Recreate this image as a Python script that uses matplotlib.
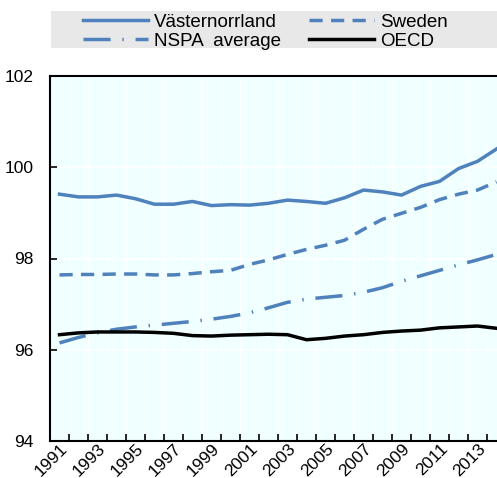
import matplotlib.pyplot as plt
from matplotlib.patches import Rectangle
import numpy as np

plt.rcParams['font.family'] = ['Liberation Sans Narrow', 'Liberation Sans', 'DejaVu Sans']

years = list(range(1991, 2015))
vasternorrland = [99.41, 99.35, 99.35, 99.39, 99.31, 99.19, 99.19, 99.25, 99.16, 99.18,
                  99.17, 99.21, 99.28, 99.25, 99.21, 99.33, 99.50, 99.46, 99.39, 99.58,
                  99.69, 99.97, 100.13, 100.40]
sweden = [97.64, 97.65, 97.65, 97.66, 97.66, 97.64, 97.64, 97.67, 97.71, 97.74,
          97.87, 97.97, 98.09, 98.20, 98.29, 98.40, 98.64, 98.86, 98.99, 99.12,
          99.29, 99.41, 99.50, 99.68]
nspa = [96.15, 96.27, 96.37, 96.45, 96.50, 96.54, 96.58, 96.62, 96.67, 96.73,
        96.81, 96.92, 97.04, 97.11, 97.15, 97.19, 97.26, 97.36, 97.50, 97.62,
        97.74, 97.86, 97.97, 98.09]
oecd = [96.33, 96.37, 96.39, 96.39, 96.39, 96.38, 96.36, 96.31, 96.30, 96.32,
        96.33, 96.34, 96.33, 96.22, 96.25, 96.30, 96.33, 96.38, 96.41, 96.43,
        96.48, 96.50, 96.52, 96.47]

BLUE = "#4f81bd"

fig = plt.figure(figsize=(4.97, 4.78), dpi=100)
# axes runs a little past the right edge of the figure
ax = fig.add_axes([50 / 497, 37 / 478, 456 / 497, 365 / 478])
ax.set_facecolor("#f0ffff")

x = np.arange(len(years))
l1, = ax.plot(x, vasternorrland, color=BLUE, lw=2.5, label="Västernorrland")
l2, = ax.plot(x, sweden, color=BLUE, lw=2.5, ls=(0, (3.8, 2.4)), label="Sweden")
l3, = ax.plot(x, nspa, color=BLUE, lw=2.5, ls=(0, (7.8, 3.4, 0.4, 3.4)), label="NSPA  average")
l4, = ax.plot(x, oecd, color="black", lw=2.5, label="OECD")

ax.set_xlim(-0.5, len(years) - 0.5)
ax.set_ylim(94, 102)
ax.set_yticks([94, 96, 98, 100, 102])

# vertical grid on category boundaries, horizontal grid on value ticks
for b in np.arange(0.5, len(years) - 0.5, 1):
    ax.axvline(b, color="white", lw=1, zorder=0.5)
for v in [96, 98, 100]:
    ax.axhline(v, color="white", lw=1.2, zorder=0.5)

# visible ticks sit on boundaries; year labels (no tick mark) slightly right of centre
ax.set_xticks(np.arange(0.5, len(years) - 0.5, 1), minor=True)
ax.set_xticks(x[::2] + 0.3)
ax.set_xticklabels([str(y) for y in years[::2]], rotation=45, ha="right", va="center",
                   rotation_mode="anchor", fontsize=12.5)
ax.tick_params(axis="x", which="major", length=0, pad=4)
ax.tick_params(axis="x", which="minor", direction="in", length=5, width=1.2)
ax.tick_params(axis="y", direction="in", length=5, width=1.2, labelsize=12.5, pad=12)

for s in ["left", "bottom", "top"]:
    ax.spines[s].set_linewidth(1.5)
ax.spines["right"].set_visible(False)

# legend band across the top
fig.patches.append(Rectangle((51 / 497, 1 - 48 / 478), 446 / 497, 37 / 478,
                             transform=fig.transFigure, facecolor="#e8e8e8",
                             edgecolor="none", zorder=0))
leg = fig.legend([l1, l3, l2, l4], [l.get_label() for l in (l1, l3, l2, l4)],
                 loc="upper left", bbox_to_anchor=(81 / 497, 1 - 12 / 478),
                 ncol=2, frameon=False, fontsize=13.5, handlelength=3.45,
                 handletextpad=0.33, borderpad=0.1, labelspacing=0.08,
                 columnspacing=1.5, borderaxespad=0)

fig.savefig("out.png", dpi=100)
